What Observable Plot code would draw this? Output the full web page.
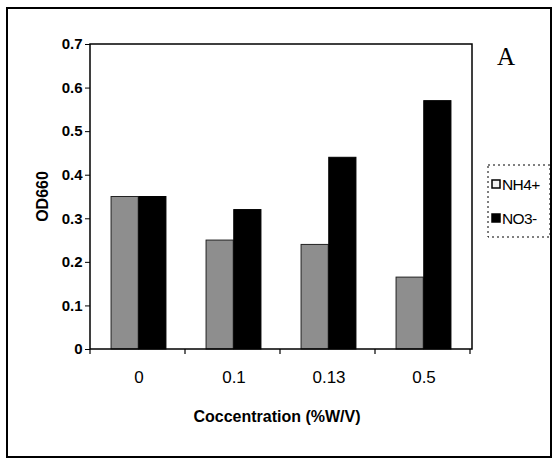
<!DOCTYPE html>
<html>
<head>
<meta charset="utf-8">
<script src="https://cdn.jsdelivr.net/npm/d3@7"></script>
<script src="https://cdn.jsdelivr.net/npm/@observablehq/plot@0.6"></script>
<style>
  html, body { margin: 0; padding: 0; background: #fff; }
  #chart svg { display: block; }
</style>
</head>
<body>
<div id="chart"></div>
<script>
// ---- data ----
const categories = ["0", "0.1", "0.13", "0.5"];
const series = ["NH4+", "NO3-"];
const nh4Values = [0.35, 0.25, 0.24, 0.165];
const no3Values = [0.35, 0.32, 0.44, 0.57];
const yTicks = [0, 0.1, 0.2, 0.3, 0.4, 0.5, 0.6, 0.7];
const seriesColors = ["#8e8e8e", "#000000"];
const xTitle = "Coccentration (%W/V)";
const yTitle = "OD660";
const panelLabel = "A";

const nh4Data = categories.map((c, i) => ({conc: c, ion: series[0], od: nh4Values[i]}));
const no3Data = categories.map((c, i) => ({conc: c, ion: series[1], od: no3Values[i]}));

const W = 553, H = 462;
const mL = 90, mR = 81, mT = 44, mB = 113;
// bar layout (styling): each band holds a pair of bars with equal side gaps
const band = (W - mL - mR) / categories.length;
const barW = band * 0.29;
const sideGap = (band - 2 * barW) / 2;

const plot = Plot.plot({
  width: W,
  height: H,
  marginLeft: mL,
  marginRight: mR,
  marginTop: mT,
  marginBottom: mB,
  style: {fontFamily: "'Liberation Sans', Arial, sans-serif", fontSize: "14px", color: "#000", background: "transparent"},
  x: {domain: categories, padding: 0, label: null},
  y: {domain: [0, 0.7], label: null},
  color: {domain: series, range: seriesColors},
  marks: [
    Plot.barY(nh4Data, {x: "conc", y: "od", fill: "ion", stroke: "#222", strokeWidth: 1,
      insetLeft: sideGap, insetRight: sideGap + barW}),
    Plot.barY(no3Data, {x: "conc", y: "od", fill: "ion", stroke: "#000", strokeWidth: 1,
      insetLeft: sideGap + barW, insetRight: sideGap}),
    Plot.axisY({ticks: yTicks, tickFormat: d3.format("~g"), tickSize: 5, tickPadding: 3, label: null, fontWeight: "bold", fontSize: 15}),
    Plot.axisX({anchor: "bottom", tickSize: 0, tickPadding: 21, label: null, fontSize: 17})
  ]
});
document.getElementById("chart").appendChild(plot);

// ---- decorations drawn from the scales ----
const svg = d3.select(plot);
const xs = plot.scale("x");
const y = plot.scale("y");
const [x0, x1] = xs.range;
const [yb, yt] = y.range;

// plot-area frame
svg.append("rect")
  .attr("x", x0).attr("y", yt).attr("width", x1 - x0).attr("height", yb - yt)
  .attr("fill", "none").attr("stroke", "#000").attr("stroke-width", 1.5);

// x boundary ticks between categories
svg.append("g").selectAll("line")
  .data(d3.range(categories.length + 1))
  .join("line")
  .attr("x1", i => x0 + i * xs.step).attr("x2", i => x0 + i * xs.step)
  .attr("y1", yb).attr("y2", yb + 5)
  .attr("stroke", "#000").attr("stroke-width", 1.2);

// axis titles
svg.append("text")
  .attr("x", (x0 + x1) / 2 - 4).attr("y", 422)
  .attr("text-anchor", "middle")
  .attr("font-family", "'Liberation Sans', Arial, sans-serif")
  .attr("font-weight", "bold").attr("font-size", 16)
  .text(xTitle);

svg.append("text")
  .attr("transform", `translate(48, ${(yb + yt) / 2}) rotate(-90)`)
  .attr("text-anchor", "middle")
  .attr("font-family", "'Liberation Sans', Arial, sans-serif")
  .attr("font-weight", "bold").attr("font-size", 16)
  .text(yTitle);

// panel letter
svg.append("text")
  .attr("x", 506).attr("y", 65)
  .attr("text-anchor", "middle")
  .attr("font-family", "'Liberation Serif', 'Times New Roman', serif")
  .attr("font-size", 25)
  .text(panelLabel);

// legend
const lg = svg.append("g");
lg.append("rect")
  .attr("x", 488).attr("y", 165).attr("width", 62).attr("height", 72)
  .attr("fill", "none").attr("stroke", "#000").attr("stroke-width", 1)
  .attr("stroke-dasharray", "2,3");
const legendFill = ["#f2f2f2", "#000"];
series.forEach((s, i) => {
  const cy = 184 + i * 34;
  lg.append("rect")
    .attr("x", 492).attr("y", cy - 4).attr("width", 8).attr("height", 8)
    .attr("fill", legendFill[i]).attr("stroke", "#000").attr("stroke-width", 1.5);
  lg.append("text")
    .attr("x", 502).attr("y", cy + 5.5)
    .attr("text-anchor", "start")
    .attr("font-family", "'Liberation Sans', Arial, sans-serif")
    .attr("font-size", 15.5)
    .attr("letter-spacing", -0.6)
    .text(s);
});

// outer border
svg.append("rect")
  .attr("x", 7).attr("y", 8).attr("width", 544).attr("height", 449)
  .attr("fill", "none").attr("stroke", "#000").attr("stroke-width", 2);
</script>
</body>
</html>
